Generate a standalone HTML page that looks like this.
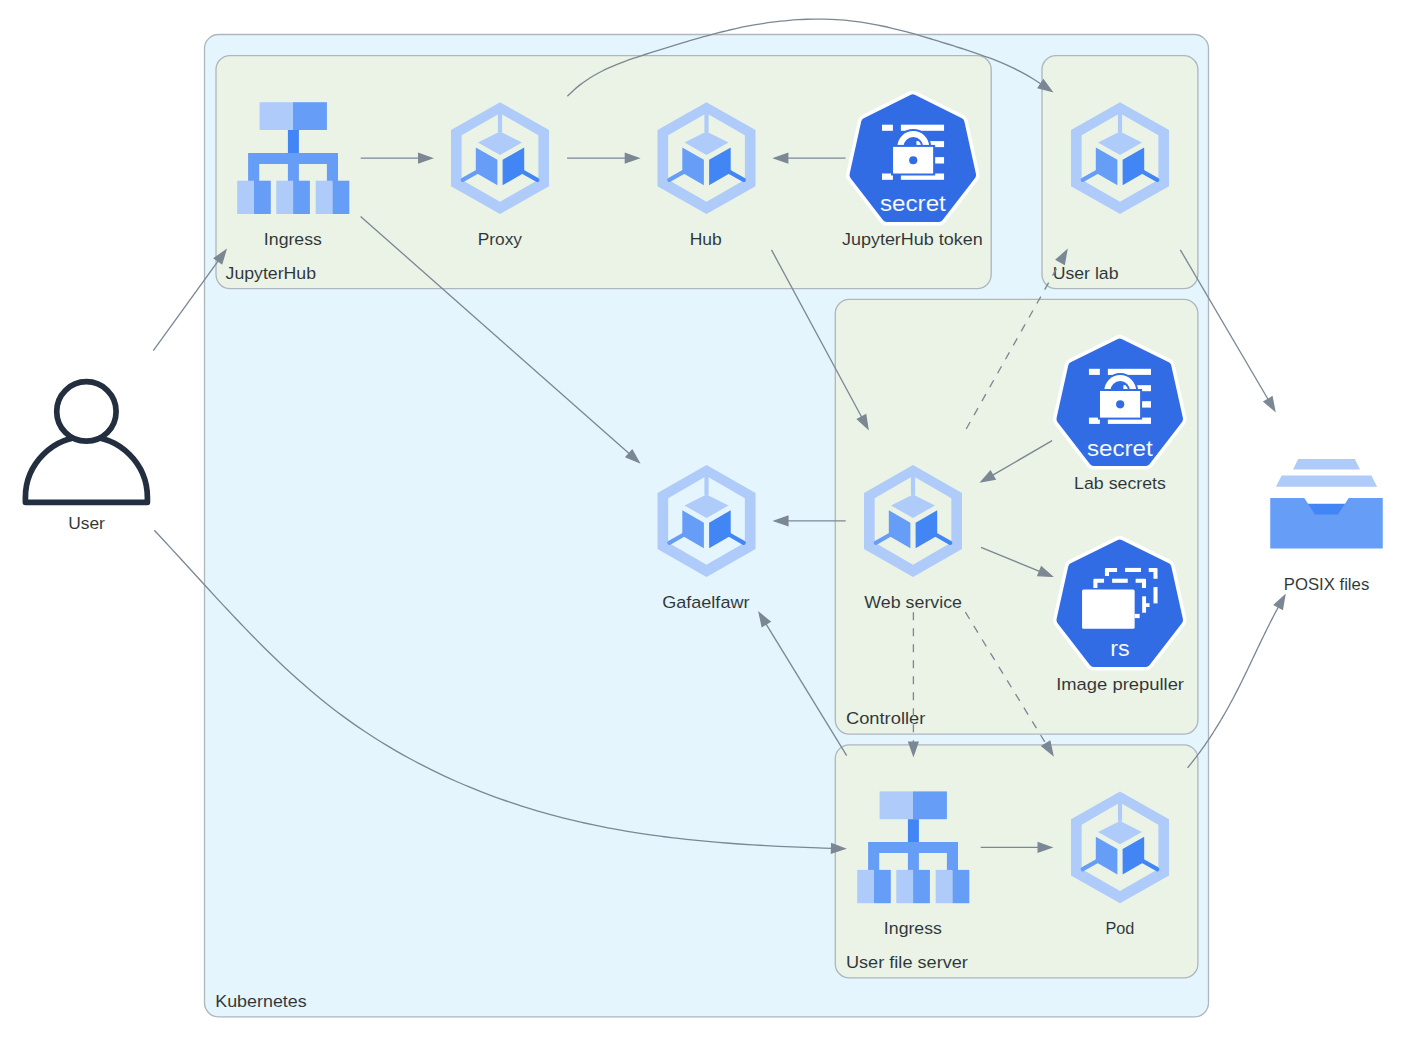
<!DOCTYPE html><html><head><meta charset="utf-8"><style>html,body{margin:0;padding:0;background:#fff;}svg{display:block;}text{font-family:"Liberation Sans",sans-serif;}</style></head><body>
<svg width="1413" height="1047" viewBox="0 0 1413 1047">
<rect width="1413" height="1047" fill="#fff"/>
<rect x="204.5" y="34.5" width="1004" height="982.3" rx="14" ry="14" fill="#E5F5FD" stroke="#AEB6BE" stroke-width="1.33"/>
<rect x="216" y="55.6" width="775.2" height="233" rx="14" ry="14" fill="#EBF3E7" stroke="#AEB6BE" stroke-width="1.33"/>
<rect x="1042" y="55.6" width="155.9" height="233" rx="14" ry="14" fill="#EBF3E7" stroke="#AEB6BE" stroke-width="1.33"/>
<rect x="835.3" y="299.4" width="362.6" height="434.7" rx="14" ry="14" fill="#EBF3E7" stroke="#AEB6BE" stroke-width="1.33"/>
<rect x="835.3" y="744.8" width="362.6" height="233.1" rx="14" ry="14" fill="#EBF3E7" stroke="#AEB6BE" stroke-width="1.33"/>
<text x="215.27" y="1006.80" font-size="16.80" textLength="91.41" lengthAdjust="spacingAndGlyphs" fill="#2D3436" stroke="#E5F5FD" stroke-width="0.05">Kubernetes</text>
<text x="225.57" y="278.60" font-size="16.80" textLength="90.48" lengthAdjust="spacingAndGlyphs" fill="#2D3436" stroke="#EBF3E7" stroke-width="0.05">JupyterHub</text>
<text x="1052.70" y="278.60" font-size="16.80" textLength="65.80" lengthAdjust="spacingAndGlyphs" fill="#2D3436" stroke="#EBF3E7" stroke-width="0.05">User lab</text>
<text x="845.94" y="724.10" font-size="16.80" textLength="79.39" lengthAdjust="spacingAndGlyphs" fill="#2D3436" stroke="#EBF3E7" stroke-width="0.05">Controller</text>
<text x="845.96" y="967.90" font-size="16.80" textLength="121.97" lengthAdjust="spacingAndGlyphs" fill="#2D3436" stroke="#EBF3E7" stroke-width="0.05">User file server</text>
<g transform="translate(237,102)"><rect x="22.6" y="0.2" width="33.4" height="27.8" fill="#AECBFA"/><rect x="56" y="0.2" width="33.9" height="27.8" fill="#669DF6"/><rect x="50.9" y="28" width="11" height="23" fill="#4285F4"/><path d="M11.1,50.9 H101 V79.2 H89.9 V61.9 H61.9 V79.2 H50.9 V61.9 H22.2 V79.2 H11.1 Z" fill="#669DF6"/><rect x="0.2" y="78.7" width="16.8" height="33.3" fill="#AECBFA"/><rect x="17" y="78.7" width="16.8" height="33.3" fill="#669DF6"/><rect x="39.3" y="78.7" width="16.8" height="33.3" fill="#AECBFA"/><rect x="56.1" y="78.7" width="16.8" height="33.3" fill="#669DF6"/><rect x="78.7" y="78.7" width="16.8" height="33.3" fill="#AECBFA"/><rect x="95.5" y="78.7" width="16.8" height="33.3" fill="#669DF6"/></g>
<text x="263.88" y="245.00" font-size="16.80" textLength="58.03" lengthAdjust="spacingAndGlyphs" fill="#2D3436" stroke="#EBF3E7" stroke-width="0.05">Ingress</text>
<g transform="translate(444,102)"><path d="M56,0.2 L105,28 L105,84.2 L56,112 L7,84.2 L7,28 Z M17.64,33.35 L17.64,77.65 L56,99.8 L94.36,77.65 L94.36,33.35 L56,11.2 Z" fill="#AECBFA" fill-rule="evenodd"/><rect x="53.9" y="10" width="4.2" height="20" fill="#AECBFA"/><polygon points="56,29.6 78,40.6 56,53 34,40.6" fill="#AECBFA"/><polygon points="31.8,45.4 53.4,57.8 53.4,83.3 31.8,70.8" fill="#669DF6"/><polygon points="58.6,57.8 80.2,45.4 80.2,70.8 58.6,83.3" fill="#4285F4"/><line x1="33.5" x2="18.8" y1="69.6" y2="77.9" stroke="#669DF6" stroke-width="4.2" stroke-linecap="round"/><line x1="78.5" x2="93.2" y1="69.6" y2="77.9" stroke="#4285F4" stroke-width="4.2" stroke-linecap="round"/></g>
<text x="477.67" y="245.00" font-size="16.80" textLength="44.36" lengthAdjust="spacingAndGlyphs" fill="#2D3436" stroke="#EBF3E7" stroke-width="0.05">Proxy</text>
<g transform="translate(650.5,102)"><path d="M56,0.2 L105,28 L105,84.2 L56,112 L7,84.2 L7,28 Z M17.64,33.35 L17.64,77.65 L56,99.8 L94.36,77.65 L94.36,33.35 L56,11.2 Z" fill="#AECBFA" fill-rule="evenodd"/><rect x="53.9" y="10" width="4.2" height="20" fill="#AECBFA"/><polygon points="56,29.6 78,40.6 56,53 34,40.6" fill="#AECBFA"/><polygon points="31.8,45.4 53.4,57.8 53.4,83.3 31.8,70.8" fill="#669DF6"/><polygon points="58.6,57.8 80.2,45.4 80.2,70.8 58.6,83.3" fill="#4285F4"/><line x1="33.5" x2="18.8" y1="69.6" y2="77.9" stroke="#669DF6" stroke-width="4.2" stroke-linecap="round"/><line x1="78.5" x2="93.2" y1="69.6" y2="77.9" stroke="#4285F4" stroke-width="4.2" stroke-linecap="round"/></g>
<text x="689.67" y="245.00" font-size="16.80" textLength="32.05" lengthAdjust="spacingAndGlyphs" fill="#2D3436" stroke="#EBF3E7" stroke-width="0.05">Hub</text>
<g transform="translate(912.8,161.2)"><g transform="scale(1,1.032)"><polygon points="0,-60.3 47.14,-37.6 58.79,13.42 26.16,54.33 -26.16,54.33 -58.79,13.42 -47.14,-37.6" fill="#fff" stroke="#fff" stroke-width="16" stroke-linejoin="round"/><polygon points="0,-60.3 47.14,-37.6 58.79,13.42 26.16,54.33 -26.16,54.33 -58.79,13.42 -47.14,-37.6" fill="#326CE5" stroke="#326CE5" stroke-width="9" stroke-linejoin="round"/></g><g transform="translate(0,-1.8)"><rect x="-30.8" y="-34.7" width="10.9" height="6.1" fill="#fff"/><rect x="-11.9" y="-34.7" width="43.15" height="6.1" fill="#fff"/><rect x="3.65" y="-18.3" width="27.6" height="6" fill="#fff"/><rect x="22.2" y="-2.3" width="9.05" height="6.4" fill="#fff"/><rect x="-30.8" y="14.1" width="10.9" height="6.3" fill="#fff"/><rect x="-11.9" y="14.1" width="43.15" height="6.3" fill="#fff"/><path d="M-17.43,-12.5 A17.9,17.9 0 0 1 18.37,-12.5 L8.37,-12.5 A7.9,7.9 0 0 0 -7.43,-12.5 Z" fill="#326CE5"/><path d="M-15.43,-12.5 A15.9,15.9 0 0 1 16.37,-12.5 L10.37,-12.5 A9.9,9.9 0 0 0 -9.43,-12.5 Z" fill="#fff"/><rect x="-21.75" y="-14.5" width="44.1" height="30.6" fill="#326CE5"/><rect x="-19.75" y="-12.5" width="40.1" height="26.6" fill="#fff"/><circle cx="0.43" cy="0.85" r="4.1" fill="#326CE5"/><text x="-32.88" y="52.00" font-size="22.36" textLength="65.92" lengthAdjust="spacingAndGlyphs" fill="#fff" stroke="#326CE5" stroke-width="0.12">secret</text></g></g>
<text x="841.94" y="245.00" font-size="16.80" textLength="140.82" lengthAdjust="spacingAndGlyphs" fill="#2D3436" stroke="#EBF3E7" stroke-width="0.05">JupyterHub token</text>
<g transform="translate(1064,102)"><path d="M56,0.2 L105,28 L105,84.2 L56,112 L7,84.2 L7,28 Z M17.64,33.35 L17.64,77.65 L56,99.8 L94.36,77.65 L94.36,33.35 L56,11.2 Z" fill="#AECBFA" fill-rule="evenodd"/><rect x="53.9" y="10" width="4.2" height="20" fill="#AECBFA"/><polygon points="56,29.6 78,40.6 56,53 34,40.6" fill="#AECBFA"/><polygon points="31.8,45.4 53.4,57.8 53.4,83.3 31.8,70.8" fill="#669DF6"/><polygon points="58.6,57.8 80.2,45.4 80.2,70.8 58.6,83.3" fill="#4285F4"/><line x1="33.5" x2="18.8" y1="69.6" y2="77.9" stroke="#669DF6" stroke-width="4.2" stroke-linecap="round"/><line x1="78.5" x2="93.2" y1="69.6" y2="77.9" stroke="#4285F4" stroke-width="4.2" stroke-linecap="round"/></g>
<g transform="translate(1119.75,405.3)"><g transform="scale(1,1.032)"><polygon points="0,-60.3 47.14,-37.6 58.79,13.42 26.16,54.33 -26.16,54.33 -58.79,13.42 -47.14,-37.6" fill="#fff" stroke="#fff" stroke-width="16" stroke-linejoin="round"/><polygon points="0,-60.3 47.14,-37.6 58.79,13.42 26.16,54.33 -26.16,54.33 -58.79,13.42 -47.14,-37.6" fill="#326CE5" stroke="#326CE5" stroke-width="9" stroke-linejoin="round"/></g><g transform="translate(0,-1.8)"><rect x="-30.8" y="-34.7" width="10.9" height="6.1" fill="#fff"/><rect x="-11.9" y="-34.7" width="43.15" height="6.1" fill="#fff"/><rect x="3.65" y="-18.3" width="27.6" height="6" fill="#fff"/><rect x="22.2" y="-2.3" width="9.05" height="6.4" fill="#fff"/><rect x="-30.8" y="14.1" width="10.9" height="6.3" fill="#fff"/><rect x="-11.9" y="14.1" width="43.15" height="6.3" fill="#fff"/><path d="M-17.43,-12.5 A17.9,17.9 0 0 1 18.37,-12.5 L8.37,-12.5 A7.9,7.9 0 0 0 -7.43,-12.5 Z" fill="#326CE5"/><path d="M-15.43,-12.5 A15.9,15.9 0 0 1 16.37,-12.5 L10.37,-12.5 A9.9,9.9 0 0 0 -9.43,-12.5 Z" fill="#fff"/><rect x="-21.75" y="-14.5" width="44.1" height="30.6" fill="#326CE5"/><rect x="-19.75" y="-12.5" width="40.1" height="26.6" fill="#fff"/><circle cx="0.43" cy="0.85" r="4.1" fill="#326CE5"/><text x="-32.88" y="52.00" font-size="22.36" textLength="65.92" lengthAdjust="spacingAndGlyphs" fill="#fff" stroke="#326CE5" stroke-width="0.12">secret</text></g></g>
<text x="1074.13" y="489.00" font-size="16.80" textLength="91.71" lengthAdjust="spacingAndGlyphs" fill="#2D3436" stroke="#EBF3E7" stroke-width="0.05">Lab secrets</text>
<g transform="translate(650.5,464.9)"><path d="M56,0.2 L105,28 L105,84.2 L56,112 L7,84.2 L7,28 Z M17.64,33.35 L17.64,77.65 L56,99.8 L94.36,77.65 L94.36,33.35 L56,11.2 Z" fill="#AECBFA" fill-rule="evenodd"/><rect x="53.9" y="10" width="4.2" height="20" fill="#AECBFA"/><polygon points="56,29.6 78,40.6 56,53 34,40.6" fill="#AECBFA"/><polygon points="31.8,45.4 53.4,57.8 53.4,83.3 31.8,70.8" fill="#669DF6"/><polygon points="58.6,57.8 80.2,45.4 80.2,70.8 58.6,83.3" fill="#4285F4"/><line x1="33.5" x2="18.8" y1="69.6" y2="77.9" stroke="#669DF6" stroke-width="4.2" stroke-linecap="round"/><line x1="78.5" x2="93.2" y1="69.6" y2="77.9" stroke="#4285F4" stroke-width="4.2" stroke-linecap="round"/></g>
<text x="662.17" y="608.00" font-size="16.80" textLength="87.34" lengthAdjust="spacingAndGlyphs" fill="#2D3436" stroke="#E5F5FD" stroke-width="0.05">Gafaelfawr</text>
<g transform="translate(857,464.9)"><path d="M56,0.2 L105,28 L105,84.2 L56,112 L7,84.2 L7,28 Z M17.64,33.35 L17.64,77.65 L56,99.8 L94.36,77.65 L94.36,33.35 L56,11.2 Z" fill="#AECBFA" fill-rule="evenodd"/><rect x="53.9" y="10" width="4.2" height="20" fill="#AECBFA"/><polygon points="56,29.6 78,40.6 56,53 34,40.6" fill="#AECBFA"/><polygon points="31.8,45.4 53.4,57.8 53.4,83.3 31.8,70.8" fill="#669DF6"/><polygon points="58.6,57.8 80.2,45.4 80.2,70.8 58.6,83.3" fill="#4285F4"/><line x1="33.5" x2="18.8" y1="69.6" y2="77.9" stroke="#669DF6" stroke-width="4.2" stroke-linecap="round"/><line x1="78.5" x2="93.2" y1="69.6" y2="77.9" stroke="#4285F4" stroke-width="4.2" stroke-linecap="round"/></g>
<text x="864.34" y="608.00" font-size="16.80" textLength="97.70" lengthAdjust="spacingAndGlyphs" fill="#2D3436" stroke="#EBF3E7" stroke-width="0.05">Web service</text>
<g transform="translate(1119.75,606.3)"><g transform="scale(1,1.032)"><polygon points="0,-60.3 47.14,-37.6 58.79,13.42 26.16,54.33 -26.16,54.33 -58.79,13.42 -47.14,-37.6" fill="#fff" stroke="#fff" stroke-width="16" stroke-linejoin="round"/><polygon points="0,-60.3 47.14,-37.6 58.79,13.42 26.16,54.33 -26.16,54.33 -58.79,13.42 -47.14,-37.6" fill="#326CE5" stroke="#326CE5" stroke-width="9" stroke-linejoin="round"/></g><g transform="translate(0,-1.3)"><path d="M-14.8,-29.1 V-36.1 Q-14.8,-37.1 -13.8,-37.1 H-2.7 V-33 H-10.7 V-29.1 Z" fill="#fff"/><rect x="5.3" y="-37.1" width="15.9" height="4.1" rx="0" fill="#fff"/><path d="M29,-37.1 H36.8 Q37.8,-37.1 37.8,-36.1 V-26.3 H33.7 V-33 H29 Z" fill="#fff"/><rect x="33.75" y="-17.9" width="4.05" height="16.3" rx="0" fill="#fff"/><rect x="26.3" y="-1.8" width="3.5" height="3.8" rx="0" fill="#fff"/><path d="M-26.4,-17.1 V-25.3 Q-26.4,-26.3 -25.4,-26.3 H-15.7 V-22.2 H-22.3 V-17.1 Z" fill="#fff"/><rect x="-7.65" y="-26.3" width="15.65" height="4.1" rx="0" fill="#fff"/><path d="M15.9,-26.3 H25.3 Q26.3,-26.3 26.3,-25.3 V-16.9 H22.2 V-22.2 H15.9 Z" fill="#fff"/><rect x="22.4" y="-8.7" width="3.9" height="16.4" rx="0" fill="#fff"/><rect x="14.9" y="8.9" width="5" height="4.2" rx="0" fill="#fff"/><rect x="-37.7" y="-15.4" width="52.6" height="39.2" rx="1.5" fill="#fff"/><text x="-9.62" y="51.20" font-size="22.36" textLength="19.43" lengthAdjust="spacingAndGlyphs" fill="#fff" stroke="#326CE5" stroke-width="0.12">rs</text></g></g>
<text x="1056.18" y="690.00" font-size="16.80" textLength="127.82" lengthAdjust="spacingAndGlyphs" fill="#2D3436" stroke="#EBF3E7" stroke-width="0.05">Image prepuller</text>
<g transform="translate(857,791.2)"><rect x="22.6" y="0.2" width="33.4" height="27.8" fill="#AECBFA"/><rect x="56" y="0.2" width="33.9" height="27.8" fill="#669DF6"/><rect x="50.9" y="28" width="11" height="23" fill="#4285F4"/><path d="M11.1,50.9 H101 V79.2 H89.9 V61.9 H61.9 V79.2 H50.9 V61.9 H22.2 V79.2 H11.1 Z" fill="#669DF6"/><rect x="0.2" y="78.7" width="16.8" height="33.3" fill="#AECBFA"/><rect x="17" y="78.7" width="16.8" height="33.3" fill="#669DF6"/><rect x="39.3" y="78.7" width="16.8" height="33.3" fill="#AECBFA"/><rect x="56.1" y="78.7" width="16.8" height="33.3" fill="#669DF6"/><rect x="78.7" y="78.7" width="16.8" height="33.3" fill="#AECBFA"/><rect x="95.5" y="78.7" width="16.8" height="33.3" fill="#669DF6"/></g>
<text x="883.88" y="934.00" font-size="16.80" textLength="58.03" lengthAdjust="spacingAndGlyphs" fill="#2D3436" stroke="#EBF3E7" stroke-width="0.05">Ingress</text>
<g transform="translate(1064,791.3)"><path d="M56,0.2 L105,28 L105,84.2 L56,112 L7,84.2 L7,28 Z M17.64,33.35 L17.64,77.65 L56,99.8 L94.36,77.65 L94.36,33.35 L56,11.2 Z" fill="#AECBFA" fill-rule="evenodd"/><rect x="53.9" y="10" width="4.2" height="20" fill="#AECBFA"/><polygon points="56,29.6 78,40.6 56,53 34,40.6" fill="#AECBFA"/><polygon points="31.8,45.4 53.4,57.8 53.4,83.3 31.8,70.8" fill="#669DF6"/><polygon points="58.6,57.8 80.2,45.4 80.2,70.8 58.6,83.3" fill="#4285F4"/><line x1="33.5" x2="18.8" y1="69.6" y2="77.9" stroke="#669DF6" stroke-width="4.2" stroke-linecap="round"/><line x1="78.5" x2="93.2" y1="69.6" y2="77.9" stroke="#4285F4" stroke-width="4.2" stroke-linecap="round"/></g>
<text x="1105.44" y="934.00" font-size="16.80" textLength="28.95" lengthAdjust="spacingAndGlyphs" fill="#2D3436" stroke="#EBF3E7" stroke-width="0.05">Pod</text>
<path d="M25.4,502.35 L25.4,497.7 A61,61 0 0 1 147.4,497.7 L147.4,502.35 Z" fill="#fff" stroke="#232F3E" stroke-width="5.7" stroke-linejoin="round"/>
<circle cx="86.4" cy="411.4" r="29.7" fill="#fff" stroke="#232F3E" stroke-width="5.7"/>
<text x="68.21" y="529.00" font-size="16.80" textLength="36.71" lengthAdjust="spacingAndGlyphs" fill="#2D3436" stroke="#FFFFFF" stroke-width="0.05">User</text>
<g transform="translate(1326.5,503.7)"><polygon points="-28.3,-44.8 28.3,-44.8 33.5,-34.1 -33.5,-34.1" fill="#AECBFA"/><polygon points="-44.85,-28.2 44.85,-28.2 50.6,-17 -50.6,-17" fill="#AECBFA"/><rect x="-56.25" y="-5.7" width="112.5" height="50.5" fill="#669DF6"/><polygon points="-22.25,-5.7 22.25,-5.7 11.45,10.8 -11.45,10.8" fill="#4285F4"/><polygon points="-22.25,-5.8 22.25,-5.8 18.52,0 -18.52,0" fill="#fff"/></g>
<text x="1283.77" y="589.70" font-size="16.80" textLength="85.49" lengthAdjust="spacingAndGlyphs" fill="#2D3436" stroke="#FFFFFF" stroke-width="0.05">POSIX files</text>
<path d="M153.3,350.6 L218.02,261.03" fill="none" stroke="#7B8894" stroke-width="1.33"/>
<polygon points="225.83,250.22 221.81,263.76 214.24,258.29" fill="#7B8894" stroke="#7B8894" stroke-width="1.33" stroke-linejoin="miter"/>
<path d="M154.3,530.2 C155.78,531.79 160.21,536.54 163.16,539.73 C166.12,542.92 169.07,546.13 172.03,549.35 C174.98,552.56 177.94,555.79 180.9,559.03 C183.86,562.27 186.82,565.51 189.79,568.76 C192.75,572.01 195.72,575.27 198.7,578.53 C201.68,581.79 204.67,585.05 207.66,588.31 C210.65,591.56 213.65,594.82 216.66,598.08 C219.67,601.33 222.69,604.58 225.72,607.82 C228.75,611.06 231.79,614.3 234.85,617.52 C237.9,620.74 240.97,623.96 244.05,627.16 C247.13,630.36 250.23,633.54 253.34,636.71 C256.46,639.88 259.59,643.03 262.73,646.16 C265.88,649.3 269.05,652.41 272.23,655.5 C275.42,658.59 278.62,661.65 281.84,664.69 C285.07,667.73 288.32,670.75 291.59,673.73 C294.86,676.71 298.15,679.67 301.46,682.59 C304.78,685.51 308.12,688.4 311.49,691.26 C314.86,694.11 318.25,696.93 321.67,699.71 C325.09,702.48 328.54,705.23 332.02,707.92 C335.5,710.62 339.01,713.28 342.54,715.89 C346.08,718.5 349.65,721.07 353.25,723.6 C356.84,726.13 360.47,728.61 364.12,731.05 C367.77,733.49 371.45,735.89 375.16,738.24 C378.86,740.59 382.6,742.91 386.36,745.18 C390.11,747.45 393.9,749.67 397.71,751.86 C401.51,754.04 405.35,756.18 409.2,758.29 C413.06,760.39 416.94,762.44 420.84,764.46 C424.74,766.48 428.66,768.45 432.61,770.39 C436.55,772.32 440.52,774.21 444.51,776.06 C448.49,777.91 452.5,779.72 456.52,781.49 C460.55,783.26 464.59,784.99 468.65,786.67 C472.72,788.36 476.8,790 480.89,791.61 C484.99,793.21 489.1,794.78 493.23,796.3 C497.36,797.82 501.51,799.31 505.67,800.75 C509.83,802.19 514,803.59 518.19,804.96 C522.38,806.32 526.58,807.64 530.8,808.93 C535.01,810.21 539.24,811.45 543.48,812.65 C547.72,813.86 551.97,815.02 556.23,816.15 C560.49,817.27 564.77,818.36 569.05,819.4 C573.33,820.45 577.62,821.46 581.92,822.43 C586.22,823.4 590.53,824.33 594.84,825.22 C599.16,826.12 603.48,826.98 607.82,827.81 C612.15,828.63 616.49,829.43 620.83,830.19 C625.18,830.95 629.53,831.67 633.89,832.37 C638.25,833.07 642.61,833.73 646.98,834.37 C651.35,835.01 655.73,835.61 660.1,836.19 C664.48,836.77 668.87,837.32 673.25,837.85 C677.64,838.37 682.03,838.87 686.43,839.35 C690.82,839.82 695.22,840.27 699.62,840.7 C704.02,841.13 708.42,841.53 712.82,841.92 C717.22,842.3 721.63,842.66 726.03,843.01 C730.44,843.35 734.85,843.68 739.25,843.98 C743.66,844.29 748.07,844.58 752.47,844.85 C756.88,845.12 761.29,845.37 765.69,845.62 C770.1,845.86 774.5,846.08 778.9,846.3 C783.3,846.51 787.7,846.71 792.1,846.9 C796.49,847.09 800.89,847.26 805.28,847.43 C809.67,847.6 814.06,847.76 818.44,847.91 C822.82,848.06 829.39,848.26 831.58,848.33" fill="none" stroke="#7B8894" stroke-width="1.33"/>
<polygon points="844.9,848.74 831.43,853 831.72,843.66" fill="#7B8894" stroke="#7B8894" stroke-width="1.33" stroke-linejoin="miter"/>
<path d="M360.7,158.2 L418.67,158.2" fill="none" stroke="#7B8894" stroke-width="1.33"/>
<polygon points="432,158.2 418.67,162.87 418.67,153.53" fill="#7B8894" stroke="#7B8894" stroke-width="1.33" stroke-linejoin="miter"/>
<path d="M567.1,158.2 L625.37,158.2" fill="none" stroke="#7B8894" stroke-width="1.33"/>
<polygon points="638.7,158.2 625.37,162.87 625.37,153.53" fill="#7B8894" stroke="#7B8894" stroke-width="1.33" stroke-linejoin="miter"/>
<path d="M845.6,158.2 L787.73,158.2" fill="none" stroke="#7B8894" stroke-width="1.33"/>
<polygon points="774.4,158.2 787.73,153.53 787.73,162.87" fill="#7B8894" stroke="#7B8894" stroke-width="1.33" stroke-linejoin="miter"/>
<path d="M567.4,96.2 C568.45,95.19 571.56,92.05 573.71,90.13 C575.87,88.2 578.08,86.38 580.34,84.65 C582.6,82.92 584.9,81.28 587.25,79.72 C589.59,78.16 591.99,76.69 594.41,75.28 C596.84,73.87 599.3,72.54 601.8,71.27 C604.29,69.99 606.83,68.79 609.38,67.64 C611.94,66.48 614.52,65.39 617.13,64.33 C619.73,63.27 622.36,62.26 625.01,61.29 C627.65,60.31 630.32,59.37 632.99,58.45 C635.67,57.54 638.36,56.65 641.05,55.78 C643.75,54.9 646.45,54.05 649.16,53.2 C651.86,52.35 654.57,51.51 657.28,50.67 C659.98,49.82 662.69,48.98 665.39,48.14 C668.1,47.3 670.8,46.46 673.5,45.63 C676.21,44.8 678.91,43.97 681.62,43.15 C684.33,42.34 687.03,41.52 689.74,40.72 C692.45,39.92 695.16,39.13 697.87,38.35 C700.59,37.57 703.3,36.81 706.02,36.05 C708.75,35.3 711.47,34.57 714.2,33.85 C716.92,33.13 719.66,32.43 722.39,31.74 C725.13,31.06 727.87,30.4 730.62,29.76 C733.37,29.12 736.13,28.5 738.89,27.91 C741.65,27.31 744.42,26.74 747.19,26.2 C749.97,25.66 752.75,25.14 755.54,24.66 C758.34,24.17 761.13,23.72 763.94,23.29 C766.74,22.86 769.56,22.47 772.37,22.1 C775.19,21.73 778.01,21.4 780.84,21.1 C783.66,20.8 786.49,20.53 789.33,20.29 C792.16,20.05 794.99,19.85 797.83,19.68 C800.66,19.52 803.5,19.38 806.34,19.28 C809.17,19.19 812.01,19.12 814.85,19.1 C817.68,19.08 820.52,19.09 823.35,19.14 C826.18,19.19 829.01,19.28 831.84,19.41 C834.66,19.53 837.49,19.7 840.3,19.91 C843.12,20.12 845.93,20.36 848.74,20.65 C851.54,20.94 854.34,21.28 857.14,21.65 C859.93,22.02 862.72,22.44 865.5,22.88 C868.28,23.33 871.05,23.82 873.82,24.34 C876.59,24.86 879.35,25.41 882.11,25.99 C884.87,26.57 887.62,27.19 890.37,27.83 C893.12,28.46 895.87,29.13 898.61,29.82 C901.35,30.51 904.08,31.22 906.82,31.95 C909.55,32.68 912.28,33.44 915.01,34.21 C917.74,34.97 920.46,35.76 923.18,36.56 C925.9,37.35 928.62,38.17 931.34,38.99 C934.06,39.8 936.77,40.64 939.49,41.47 C942.2,42.31 944.91,43.15 947.62,44 C950.34,44.84 953.05,45.69 955.76,46.55 C958.46,47.4 961.17,48.26 963.87,49.13 C966.57,50.01 969.27,50.89 971.96,51.79 C974.64,52.69 977.32,53.6 979.99,54.54 C982.66,55.49 985.32,56.44 987.97,57.43 C990.61,58.42 993.25,59.43 995.87,60.48 C998.48,61.53 1001.09,62.6 1003.67,63.72 C1006.26,64.84 1008.83,65.99 1011.38,67.18 C1013.92,68.38 1016.45,69.61 1018.96,70.9 C1021.46,72.19 1023.94,73.52 1026.4,74.9 C1028.86,76.29 1031.29,77.72 1033.69,79.22 C1036.1,80.72 1039.63,83.11 1040.82,83.89" fill="none" stroke="#7B8894" stroke-width="1.33"/>
<polygon points="1051.85,91.38 1038.19,87.75 1043.44,80.02" fill="#7B8894" stroke="#7B8894" stroke-width="1.33" stroke-linejoin="miter"/>
<path d="M360.6,216.4 L629.11,453.55" fill="none" stroke="#7B8894" stroke-width="1.33"/>
<polygon points="639.1,462.38 626.02,457.05 632.2,450.05" fill="#7B8894" stroke="#7B8894" stroke-width="1.33" stroke-linejoin="miter"/>
<path d="M771.5,249.9 L861.62,417.01" fill="none" stroke="#7B8894" stroke-width="1.33"/>
<polygon points="867.95,428.74 857.51,419.22 865.73,414.79" fill="#7B8894" stroke="#7B8894" stroke-width="1.33" stroke-linejoin="miter"/>
<path d="M966.2,429 L1060.28,261.96" fill="none" stroke="#7B8894" stroke-width="1.33" stroke-dasharray="8,8"/>
<polygon points="1066.82,250.34 1064.35,264.25 1056.21,259.67" fill="#7B8894" stroke="#7B8894" stroke-width="1.33" stroke-linejoin="miter"/>
<path d="M1052.1,440.7 L992.76,475.11" fill="none" stroke="#7B8894" stroke-width="1.33"/>
<polygon points="981.23,481.8 990.42,471.07 995.1,479.15" fill="#7B8894" stroke="#7B8894" stroke-width="1.33" stroke-linejoin="miter"/>
<path d="M845.7,520.9 L787.93,520.9" fill="none" stroke="#7B8894" stroke-width="1.33"/>
<polygon points="774.6,520.9 787.93,516.23 787.93,525.57" fill="#7B8894" stroke="#7B8894" stroke-width="1.33" stroke-linejoin="miter"/>
<path d="M981,547.4 L1039.61,571.31" fill="none" stroke="#7B8894" stroke-width="1.33"/>
<polygon points="1051.95,576.34 1037.84,575.63 1041.37,566.99" fill="#7B8894" stroke="#7B8894" stroke-width="1.33" stroke-linejoin="miter"/>
<path d="M913.4,612.2 L913.4,742.07" fill="none" stroke="#7B8894" stroke-width="1.33" stroke-dasharray="8,8"/>
<polygon points="913.4,755.4 908.73,742.07 918.07,742.07" fill="#7B8894" stroke="#7B8894" stroke-width="1.33" stroke-linejoin="miter"/>
<path d="M965.4,612.2 L1045.89,743.63" fill="none" stroke="#7B8894" stroke-width="1.33" stroke-dasharray="8,8"/>
<polygon points="1052.86,754.99 1041.91,746.07 1049.88,741.19" fill="#7B8894" stroke="#7B8894" stroke-width="1.33" stroke-linejoin="miter"/>
<path d="M846.7,755.6 L766.11,624.07" fill="none" stroke="#7B8894" stroke-width="1.33"/>
<polygon points="759.14,612.71 770.09,621.63 762.13,626.51" fill="#7B8894" stroke="#7B8894" stroke-width="1.33" stroke-linejoin="miter"/>
<path d="M980.7,847.4 L1038.17,847.4" fill="none" stroke="#7B8894" stroke-width="1.33"/>
<polygon points="1051.5,847.4 1038.17,852.07 1038.17,842.73" fill="#7B8894" stroke="#7B8894" stroke-width="1.33" stroke-linejoin="miter"/>
<path d="M1180.3,249.8 L1268.04,399.28" fill="none" stroke="#7B8894" stroke-width="1.33"/>
<polygon points="1274.79,410.78 1264.01,401.64 1272.07,396.92" fill="#7B8894" stroke="#7B8894" stroke-width="1.33" stroke-linejoin="miter"/>
<path d="M1187.6,767.8 C1187.93,767.39 1188.94,766.18 1189.6,765.37 C1190.26,764.55 1190.92,763.74 1191.58,762.92 C1192.23,762.1 1192.88,761.27 1193.53,760.45 C1194.17,759.62 1194.81,758.79 1195.45,757.96 C1196.09,757.13 1196.72,756.3 1197.35,755.46 C1197.98,754.62 1198.6,753.78 1199.23,752.94 C1199.85,752.1 1200.46,751.25 1201.08,750.41 C1201.69,749.56 1202.3,748.71 1202.91,747.86 C1203.51,747.01 1204.11,746.15 1204.71,745.29 C1205.31,744.44 1205.9,743.58 1206.5,742.72 C1207.09,741.85 1207.67,740.99 1208.26,740.12 C1208.84,739.26 1209.42,738.39 1210,737.51 C1210.57,736.64 1211.15,735.77 1211.71,734.89 C1212.28,734.02 1212.85,733.14 1213.41,732.26 C1213.98,731.38 1214.53,730.5 1215.09,729.61 C1215.65,728.73 1216.2,727.84 1216.75,726.95 C1217.3,726.07 1217.84,725.18 1218.39,724.28 C1218.93,723.39 1219.47,722.5 1220.01,721.6 C1220.54,720.7 1221.08,719.81 1221.61,718.91 C1222.14,718.01 1222.67,717.1 1223.19,716.2 C1223.72,715.3 1224.24,714.39 1224.76,713.49 C1225.28,712.58 1225.79,711.67 1226.3,710.76 C1226.82,709.85 1227.33,708.94 1227.84,708.02 C1228.34,707.11 1228.85,706.2 1229.35,705.28 C1229.86,704.36 1230.36,703.44 1230.85,702.53 C1231.35,701.61 1231.84,700.68 1232.34,699.76 C1232.83,698.84 1233.32,697.92 1233.81,696.99 C1234.29,696.07 1234.78,695.14 1235.26,694.21 C1235.74,693.28 1236.23,692.36 1236.7,691.42 C1237.18,690.49 1237.66,689.56 1238.13,688.63 C1238.6,687.7 1239.08,686.76 1239.55,685.83 C1240.02,684.9 1240.48,683.96 1240.95,683.02 C1241.42,682.09 1241.88,681.15 1242.34,680.21 C1242.8,679.27 1243.27,678.33 1243.73,677.39 C1244.19,676.45 1244.64,675.51 1245.1,674.57 C1245.56,673.63 1246.01,672.69 1246.47,671.75 C1246.92,670.8 1247.38,669.86 1247.83,668.92 C1248.28,667.97 1248.73,667.03 1249.18,666.08 C1249.64,665.14 1250.09,664.2 1250.54,663.25 C1250.99,662.31 1251.44,661.36 1251.89,660.42 C1252.33,659.47 1252.78,658.52 1253.23,657.58 C1253.68,656.63 1254.13,655.69 1254.58,654.74 C1255.03,653.8 1255.48,652.85 1255.92,651.91 C1256.37,650.96 1256.82,650.01 1257.27,649.07 C1257.72,648.12 1258.17,647.18 1258.62,646.24 C1259.07,645.29 1259.52,644.35 1259.98,643.4 C1260.43,642.46 1260.88,641.52 1261.33,640.57 C1261.79,639.63 1262.24,638.69 1262.7,637.75 C1263.15,636.8 1263.61,635.86 1264.07,634.92 C1264.53,633.98 1264.98,633.04 1265.45,632.1 C1265.91,631.16 1266.37,630.23 1266.83,629.29 C1267.3,628.35 1267.76,627.41 1268.23,626.48 C1268.7,625.54 1269.17,624.61 1269.64,623.68 C1270.11,622.74 1270.58,621.81 1271.06,620.88 C1271.53,619.95 1272.01,619.02 1272.49,618.09 C1272.97,617.16 1273.45,616.23 1273.94,615.31 C1274.42,614.38 1274.91,613.46 1275.4,612.53 C1275.89,611.61 1276.39,610.69 1276.88,609.77 C1277.38,608.85 1278.13,607.47 1278.38,607.01" fill="none" stroke="#7B8894" stroke-width="1.33"/>
<polygon points="1284.83,595.35 1282.47,609.27 1274.29,604.75" fill="#7B8894" stroke="#7B8894" stroke-width="1.33" stroke-linejoin="miter"/>
</svg></body></html>
